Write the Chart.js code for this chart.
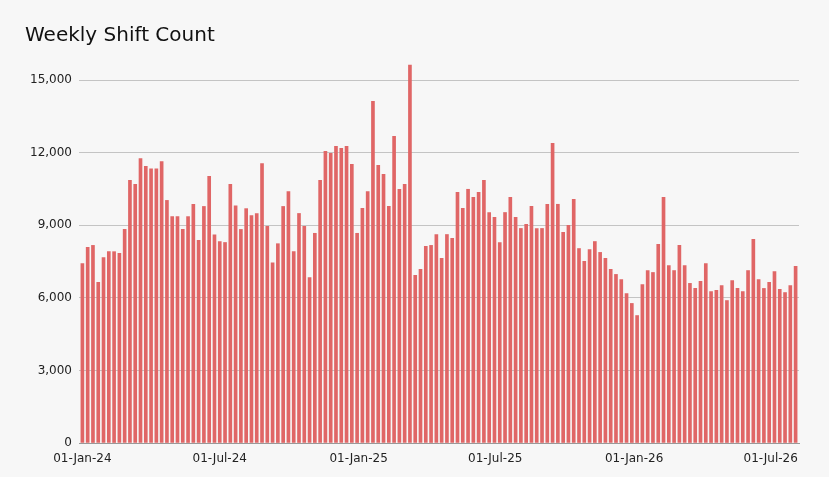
<!DOCTYPE html>
<html>
<head>
<meta charset="utf-8">
<script src="https://cdn.jsdelivr.net/npm/chart.js@4.4.1/dist/chart.umd.min.js"></script>
<style>
  html, body { margin: 0; padding: 0; background: #f7f7f7; }
  canvas { display: block; }
</style>
</head>
<body>
<canvas id="c" width="829" height="477"></canvas>
<script>
// ---- data ----
const firstWeekStart = '2024-01-01';
const shiftCounts = [
  7420, 8090, 8170, 6640, 7670, 7910, 7910, 7840, 8830, 10860,
  10690, 11760, 11440, 11340, 11340, 11630, 10030, 9360, 9360, 8830,
  9360, 9870, 8380, 9780, 11030, 8610, 8330, 8290, 10690, 9810,
  8830, 9690, 9400, 9490, 11550, 8960, 7450, 8240, 9780, 10390,
  7910, 9490, 8960, 6840, 8670, 10860, 12060, 11980, 12270, 12180,
  12270, 11520, 8670, 9700, 10390, 14130, 11480, 11110, 9780, 12680,
  10490, 10690, 15620, 6930, 7180, 8130, 8170, 8620, 7630, 8620,
  8460, 10360, 9700, 10490, 10160, 10360, 10860, 9530, 9330, 8290,
  9530, 10160, 9330, 8870, 9040, 9780, 8870, 8870, 9870, 12390,
  9870, 8710, 9000, 10070, 8040, 7510, 8000, 8330, 7880, 7630,
  7180, 6970, 6760, 6180, 5770, 5270, 6550, 7130, 7050, 8210,
  10160, 7340, 7130, 8170, 7340, 6600, 6390, 6680, 7420, 6260,
  6310, 6510, 5890, 6720, 6390, 6260, 7130, 8420, 6760, 6390,
  6640, 7090, 6350, 6220, 6510, 7300
];
const xTickDates = ['2024-01-01', '2024-07-01', '2025-01-01', '2025-07-01', '2026-01-01', '2026-07-01'];
const xTickLabels = ['01-Jan-24', '01-Jul-24', '01-Jan-25', '01-Jul-25', '01-Jan-26', '01-Jul-26'];
const yTickValues = [0, 3000, 6000, 9000, 12000, 15000];

// ---- helpers ----
const DAY = 86400000;
const t0 = Date.parse(firstWeekStart + 'T00:00:00Z');
const dayOf = s => Math.round((Date.parse(s + 'T00:00:00Z') - t0) / DAY);
const weekDays = shiftCounts.map((_, i) => i * 7);            // week start, days since first week
const points = shiftCounts.map((v, i) => ({ x: weekDays[i], y: v }));
const labelDays = xTickDates.map(dayOf);
const monthDays = [];
for (let y = 2024; y <= 2026; y++) {
  for (let m = 0; m < 12; m++) {
    const d = Math.round((Date.UTC(y, m, 1) - t0) / DAY);
    if (d <= weekDays[weekDays.length - 1]) monthDays.push(d);
  }
}

const font = 'DejaVu Sans, Verdana, sans-serif';

new Chart(document.getElementById('c'), {
  type: 'bar',
  data: {
    datasets: [{
      label: 'Weekly Shift Count',
      data: points,
      backgroundColor: '#e06666',
      borderWidth: 0,
      barThickness: 3
    }]
  },
  options: {
    responsive: false,
    animation: false,
    layout: { padding: { left: 25, top: 14, right: 30, bottom: 0 } },
    plugins: {
      legend: { display: false },
      tooltip: { enabled: false },
      title: {
        display: true,
        text: 'Weekly Shift Count',
        align: 'start',
        color: '#111',
        font: { family: font, size: 20, weight: 'normal' },
        padding: { top: 10, bottom: 8 }
      }
    },
    scales: {
      x: {
        type: 'linear',
        min: -4.5,
        max: weekDays[weekDays.length - 1] + 4.5,
        offset: false,
        afterBuildTicks: s => { s.ticks = monthDays.map(v => ({ value: v })); },
        afterFit: s => { s.height = 34; },
        ticks: {
          autoSkip: false,
          maxRotation: 0,
          padding: 8,
          color: '#222',
          font: { family: font, size: 12 },
          callback: v => { const i = labelDays.indexOf(v); return i >= 0 ? xTickLabels[i] : ''; }
        },
        grid: { drawOnChartArea: false, drawTicks: true, tickLength: 1, color: '#444', tickWidth: 1 },
        border: { display: true, color: '#999', width: 1 }
      },
      y: {
        min: 0,
        max: 16000,
        afterBuildTicks: s => { s.ticks = yTickValues.map(v => ({ value: v })); },
        afterFit: s => { s.width = 54; },
        ticks: {
          padding: 7,
          color: '#222',
          font: { family: font, size: 12 },
          callback: v => v.toLocaleString('en-US')
        },
        grid: { color: '#c4c4c4', drawTicks: false },
        border: { display: false }
      }
    }
  }
});
</script>
</body>
</html>
